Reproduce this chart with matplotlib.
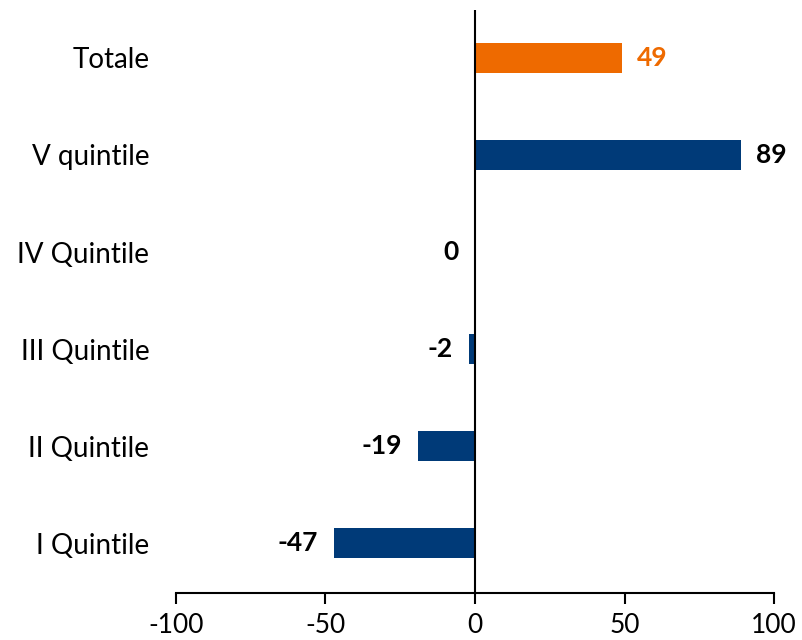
import numpy as np
import matplotlib.pyplot as plt

plt.rcParams['font.family'] = ['Lato', 'DejaVu Sans']
plt.rcParams['axes.unicode_minus'] = False

# Data
categories = ["I Quintile", "II Quintile", "III Quintile", "IV Quintile", "V quintile", "Totale"]
values = [-47, -19, -2, 0, 89, 49]
colors = ["#003A78"] * 5 + ["#EE6A00"]
label_colors = ["black"] * 5 + ["#EE6A00"]

fig = plt.figure(figsize=(8.03, 6.4), dpi=100)
ax = fig.add_axes([0.219, 0.073, 0.745, 0.911])

y = np.arange(len(categories))
ax.barh(y, values, height=0.31, color=colors)

for yi, v, lc in zip(y, values, label_colors):
    if v > 0:
        ax.text(v + 5, yi, str(v), ha="left", va="center", fontsize=19,
                fontweight="bold", color=lc)
    else:
        ax.text(v - 5.5, yi, str(v), ha="right", va="center", fontsize=19,
                fontweight="bold", color=lc)

ax.axvline(0, color="black", lw=1.5)
ax.set_xlim(-100, 100)
ax.set_ylim(-0.515, 5.49)
ax.set_xticks([-100, -50, 0, 50, 100])
ax.set_yticks(y)
ax.set_yticklabels(categories)

for s in ["left", "right", "top"]:
    ax.spines[s].set_visible(False)
ax.spines["bottom"].set_linewidth(1.5)
ax.tick_params(axis="x", direction="out", length=8, width=1.5, labelsize=19, pad=6)
ax.tick_params(axis="y", length=0, labelsize=20, pad=19)

fig.savefig("out.png", dpi=100)
